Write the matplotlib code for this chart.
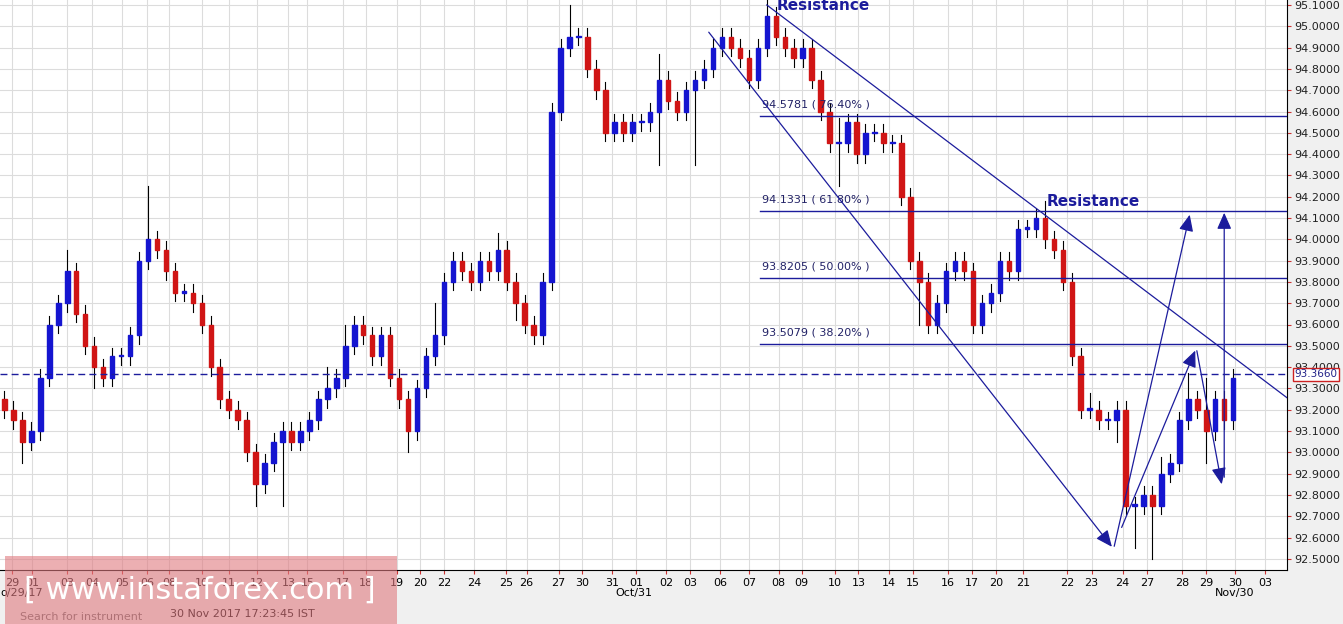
import matplotlib
matplotlib.use("Agg")
import matplotlib.pyplot as plt
from matplotlib.patches import Rectangle, FancyArrowPatch

closes = [93.2,93.15,93.05,93.1,93.35,93.6,93.7,93.85,93.65,93.5,93.4,93.35,93.45,93.45,93.55,93.9,
          94.0,93.95,93.85,93.75,93.75,93.7,93.6,93.4,93.25,93.2,93.15,93.0,92.85,92.95,93.05,93.1,
          93.05,93.1,93.15,93.25,93.3,93.35,93.5,93.6,93.55,93.45,93.55,93.35,93.25,93.1,93.3,93.45,
          93.55,93.8,93.9,93.85,93.8,93.9,93.85,93.95,93.8,93.7,93.6,93.55,93.8,94.6,94.9,94.95,
          94.95,94.8,94.7,94.5,94.55,94.5,94.55,94.55,94.6,94.75,94.65,94.6,94.7,94.75,94.8,94.9,
          94.95,94.9,94.85,94.75,94.9,95.05,94.95,94.9,94.85,94.9,94.75,94.6,94.45,94.45,94.55,94.4,
          94.5,94.5,94.45,94.45,94.2,93.9,93.8,93.6,93.7,93.85,93.9,93.85,93.6,93.7,93.75,93.9,
          93.85,94.05,94.05,94.1,94.0,93.95,93.8,93.45,93.2,93.2,93.15,93.15,93.2,92.75,92.75,92.8,
          92.75,92.9,92.95,93.15,93.25,93.2,93.1,93.25,93.15,93.35]
first_open = 93.25
up_spikes = {7:0.1, 16:0.25, 36:0.1, 38:0.1, 48:0.15, 55:0.08, 63:0.15, 73:0.12, 85:0.1, 93:0.12,
             116:0.08, 121:0.08, 129:0.08, 132:0.12, 134:0.15}
dn_spikes = {2:0.1, 10:0.1, 28:0.1, 31:0.3, 45:0.1, 57:0.08, 73:0.25, 77:0.35, 93:0.2, 102:0.2,
             124:0.1, 126:0.2, 128:0.25, 134:0.15}
day_labels = ["29","01","03","04","05","06","08","10","11","12","13","15","17","18","19","20","22","24","25","26",
              "27","30","31","01","02","03","06","07","08","09","10","13","14","15","16","17","20","21","22","23",
              "24","27","28","29","30","03"]
label_px = [8,28,63,88,118,143,165,198,225,253,285,304,340,363,394,417,441,471,503,524,556,580,610,634,664,688,
            718,747,777,800,833,857,888,912,947,971,995,1022,1066,1091,1122,1147,1182,1206,1235,1265]
fib_levels = [94.5781,94.1331,93.8205,93.5079]
fib_names = ["76.40%","61.80%","50.00%","38.20%"]
last_price = 93.366

W,H = 1343,624
fig = plt.figure(figsize=(W/100,H/100), dpi=100)
fig.patch.set_facecolor("#f0f0f0")
ax = fig.add_axes([0,(H-570)/H,1287/W,570/H])
ax.set_facecolor("white")
def px(x): return x/9.0
def py(y): return 95.1-(y-5)/213.0
ax.set_xlim(-0.5, px(1287))
ax.set_ylim(py(570), py(0))

for p in label_px:
    ax.axvline(px(p), color="#dcdcdc", lw=0.8, zorder=0)
yt = [round(92.5+0.1*k,1) for k in range(27)]
for v in yt:
    ax.axhline(v, color="#dcdcdc", lw=0.8, zorder=0)

bull, bear = "#1515d0", "#d01515"
o = first_open
for i,c in enumerate(closes):
    hi = max(o,c)+up_spikes.get(i,0.04)
    lo = min(o,c)-dn_spikes.get(i,0.04)
    col = bull if c>=o else bear
    ax.plot([i,i],[lo,hi], color="black", lw=0.8, zorder=2)
    ax.add_patch(Rectangle((i-0.25,min(o,c)),0.5,max(abs(c-o),0.006),color=col,zorder=3))
    o = c

navy = "#1c1c9c"
for lev,nm in zip(fib_levels,fib_names):
    ax.plot([px(758),px(1287)],[lev,lev],color=navy,lw=1,zorder=4)
    ax.text(px(760),lev+0.04,f"{lev:.4f} ( {nm} )",fontsize=8,color="#222266",zorder=5)
ax.axhline(last_price,color=navy,lw=1,ls=(0,(5,3)),zorder=4)

ax.plot([px(765),px(1290)],[py(5),py(400)],color=navy,lw=0.9,zorder=4)
def arrow(x0,y0,x1,y1):
    ax.add_patch(FancyArrowPatch((px(x0),py(y0)),(px(x1),py(y1)),arrowstyle="-|>,head_length=5,head_width=2.2",
                 color=navy,lw=0.9,zorder=5,mutation_scale=2))
arrow(705,30,1113,549)
arrow(1113,549,1190,212)
arrow(1120,530,1196,348)
arrow(1196,348,1222,487)
arrow(1224,480,1224,210)
ax.text(px(775),py(10),"Resistance",fontsize=11,fontweight="bold",color=navy,zorder=6)
ax.text(px(1046),py(206),"Resistance",fontsize=11,fontweight="bold",color=navy,zorder=6)

ax.yaxis.tick_right()
ax.set_yticks(yt)
ax.set_yticklabels([f"{v:.4f}" for v in yt],fontsize=8)
ax.tick_params(axis="y",colors="#222222",length=3,color="#cc3333",pad=2)
ax.set_xticks([px(p) for p in label_px])
ax.set_xticklabels(day_labels,fontsize=8)
ax.tick_params(axis="x",length=3,color="#cc3333",pad=3)
for s in ["top","left"]:
    ax.spines[s].set_visible(False)
ax.spines["right"].set_color("black"); ax.spines["bottom"].set_color("black")
ax.text(1.006,last_price,f"{last_price:.4f}",transform=ax.get_yaxis_transform(),fontsize=7.5,color="#222288",
        va="center",bbox=dict(facecolor="white",edgecolor="#cc2222",pad=1.0),zorder=7)

fig.text(634/W, (H-596)/H, "Oct/31", fontsize=8, ha="center")
fig.text(1235/W, (H-596)/H, "Nov/30", fontsize=8, ha="center")
fig.text(0/W, (H-596)/H, "o/29/17", fontsize=8, ha="left")
fig.text(170/W,(H-617)/H,"30 Nov 2017 17:23:45 IST",fontsize=8)
fig.text(20/W,(H-620)/H,"Search for instrument",fontsize=8,color="#666666")
fig.patches.append(Rectangle((5/W,0),392/W,68/H,transform=fig.transFigure,facecolor="#e07a80",alpha=0.6,zorder=10))
fig.text(200/W,(H-590)/H,"[ www.instaforex.com ]",fontsize=22,color="white",ha="center",va="center",zorder=11)
fig.savefig("out.png",dpi=100,facecolor=fig.get_facecolor())
